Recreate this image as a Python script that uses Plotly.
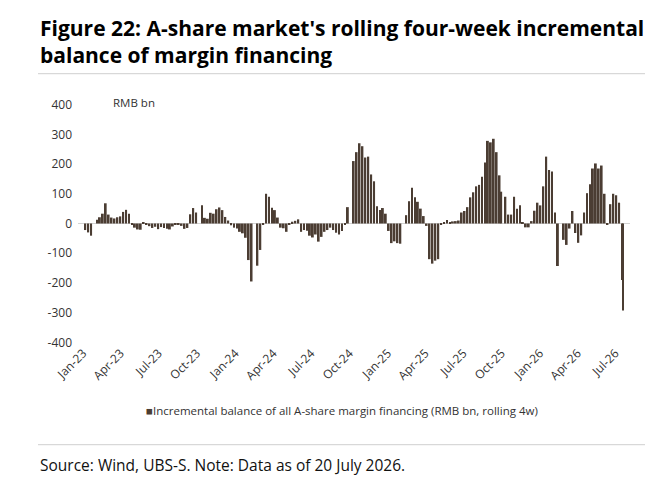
import pandas as pd
import plotly.graph_objects as go

# rolling 4-week change of A-share margin financing balance, RMB bn
# one reading per week (Friday), None = no trading that week
values_2023 = [-22, -30, -41, None, 13, 21, 33, 68, 30, 20, 17, 21, 24,
               39, 46, 33, -5, -14, -20, -21, 3, -4, -9, -15, -11, -19,
               -12, -15, -18, -20, -10, -5, -3, -8, -18, -15, 31, 52, 37,
               None, 61, 19, 16, 36, 33, 48, 54, 45, 22, 10, -6, -14]
values_2024 = [-17, -28, -33, -48, -123, -195, None, -142, -89, -5, 100, 90,
               53, 45, 20, -14, -16, -28, -2, 6, 9, 14, -28, -22, -24, -41,
               -47, -37, -61, -45, -28, -22, -14, -22, -31, -37, -25, -3, 55,
               None, 210, 240, 270, 260, 222, 225, 165, 142, 58, 45, 52, 33]
values_2025 = [-25, -66, -60, -66, -68, 0, 28, 75, 120, 88, 73, 50, 25, -8,
               -120, -135, -125, -120, -4, 2, 12, 3, 7, 8, 10, 37, 42, 55,
               88, 105, 125, 130, 157, 205, 278, 273, 285, 240, 162, 107, 90,
               30, 30, 90, 50, 61, 3, -13, -13, 8, 43, 70]
values_2026 = [61, 125, 225, 180, 175, 37, -143, None, -55, -72, -17, 42,
               -32, -65, -40, 37, 102, 132, 185, 202, 185, 195, 100, -3, 65,
               100, 95, 70, -190, -293]

first_week = "2023-01-06"
last_week = "2026-07-17"
holiday_shift = {"2025-10-03": "2025-09-30"}
last_point = "2026-07-20"

y_ticks = [-400, -300, -200, -100, 0, 100, 200, 300, 400]

title_text = ("Figure 22: A-share market's rolling four-week incremental<br>"
              "balance of margin financing")
unit_text = "RMB bn"
series_name = ("Incremental balance of all A-share margin financing "
               "(RMB bn, rolling 4w)")
source_text = "Source: Wind, UBS-S. Note: Data as of 20 July 2026."

# ---- layout constants (pixels) ----
W, H = 653, 495
PLOT_L, PLOT_R = 70, 622
PLOT_T, PLOT_B = 96, 335
BAR_COLOR = "#4b3d33"
TEXT_COLOR = "#333333"
RULE_COLOR = "#cfcfcf"
FONT = "Open Sans"
DAY_MS = 86400000


def px_x(px):
    return (px - PLOT_L) / (PLOT_R - PLOT_L)


def px_y(py):
    return (PLOT_B - py) / (PLOT_B - PLOT_T)


weeks = pd.date_range(first_week, last_week, freq="7D")
dates = [pd.Timestamp(holiday_shift.get(d.strftime("%Y-%m-%d"), d)) for d in weeks]
dates.append(pd.Timestamp(last_point))
values = values_2023 + values_2024 + values_2025 + values_2026

widths = [4.5 * DAY_MS] * (len(dates) - 1) + [2 * DAY_MS]

fig = go.Figure()
fig.add_trace(go.Bar(
    x=dates,
    y=values,
    width=widths,
    name=series_name,
    marker=dict(color=BAR_COLOR, line=dict(width=0)),
    showlegend=False,
))

fig.update_layout(
    width=W,
    height=H,
    margin=dict(l=PLOT_L, r=W - PLOT_R, t=PLOT_T, b=H - PLOT_B),
    paper_bgcolor="white",
    plot_bgcolor="white",
    font=dict(family=FONT, color=TEXT_COLOR, size=12),
    xaxis=dict(
        type="date",
        range=["2022-12-19 12:00", "2026-08-05"],
        tick0="2023-01-01",
        dtick="M3",
        tickformat="%b-%y",
        tickangle=-45,
        tickfont=dict(size=12, color=TEXT_COLOR),
        showgrid=False,
        showline=False,
        zeroline=False,
        ticks="",
    ),
    yaxis=dict(
        range=[-402, 402],
        tickvals=y_ticks,
        ticktext=[str(v) for v in y_ticks],
        tickfont=dict(size=12, color=TEXT_COLOR),
        showgrid=False,
        showline=False,
        zeroline=True,
        zerolinecolor="#d3d3d3",
        zerolinewidth=1,
        ticks="",
        ticklabelstandoff=5,
    ),
)

fig.add_annotation(text=f"<b>{title_text}</b>", xref="paper", yref="paper",
                   x=px_x(29.5), y=px_y(4), xanchor="left", yanchor="top",
                   align="left", showarrow=False,
                   font=dict(family=FONT, size=21, color="#000000"))

for y_line in (65.7, 436.7):
    fig.add_shape(type="line", xref="paper", yref="paper",
                  x0=px_x(30), x1=px_x(643), y0=px_y(y_line), y1=px_y(y_line),
                  line=dict(color=RULE_COLOR, width=1))

fig.add_annotation(text=unit_text, xref="paper", yref="paper",
                   x=px_x(103), y=px_y(94), xanchor="left", yanchor="middle",
                   showarrow=False, font=dict(size=11.5, color=TEXT_COLOR))

fig.add_annotation(
    text=f"<span style='color:{BAR_COLOR}'>■</span>{series_name}",
    xref="paper", yref="paper", x=px_x(136), y=px_y(402),
    xanchor="left", yanchor="middle", showarrow=False,
    font=dict(size=11.5, color=TEXT_COLOR))

fig.add_annotation(text=source_text, xref="paper", yref="paper",
                   x=px_x(30), y=px_y(457), xanchor="left", yanchor="middle",
                   showarrow=False, font=dict(size=15.5, color="#111111"))

fig.write_html("out.html")
